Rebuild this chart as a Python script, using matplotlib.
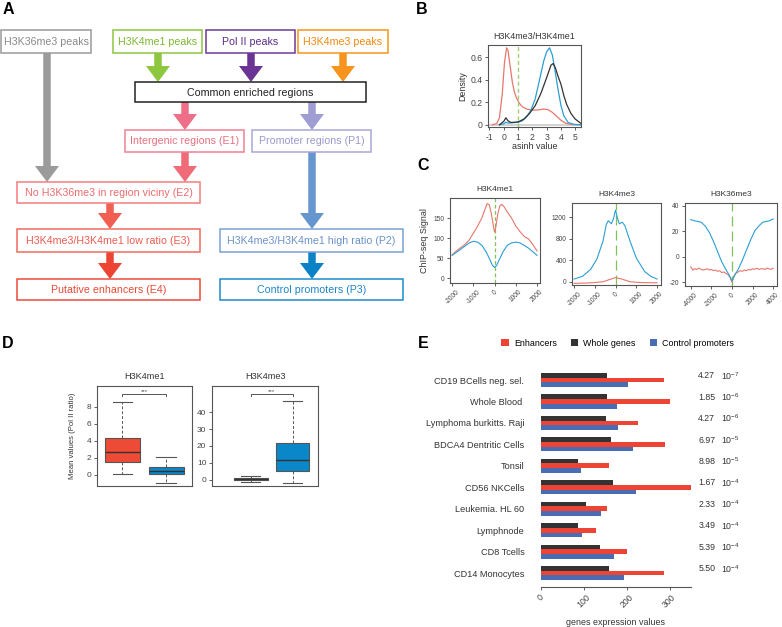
import numpy as np
import matplotlib.pyplot as plt
from matplotlib.patches import FancyArrow, Rectangle, Patch

plt.rcParams['font.family'] = ['Liberation Sans', 'DejaVu Sans']
plt.rcParams['axes.unicode_minus'] = False
plt.rcParams['mathtext.default'] = 'regular'

W, H = 782, 627

# ---- B: density of asinh(H3K4me3/H3K4me1)
e2_x = [-0.8, -0.5, -0.3, -0.1, 0.05, 0.2, 0.3, 0.45, 0.6, 0.75, 0.9, 1.1, 1.3, 1.6,
        2.0, 2.4, 2.8, 3.1, 3.4, 3.7, 4.0, 4.3, 4.7, 5.4]
e2_y = [0.0, 0.01, 0.06, 0.28, 0.55, 0.685, 0.66, 0.52, 0.38, 0.29, 0.235, 0.19, 0.16, 0.14,
        0.13, 0.132, 0.14, 0.135, 0.11, 0.075, 0.04, 0.015, 0.003, 0.0]
p1_x = [-0.3, 0.0, 0.15, 0.3, 0.6, 1.0, 1.3, 1.6, 1.9, 2.2, 2.5, 2.8, 3.0, 3.2, 3.4, 3.6,
        3.8, 4.0, 4.2, 4.5, 4.9, 5.4]
p1_y = [0.0, 0.008, 0.022, 0.015, 0.018, 0.022, 0.035, 0.07, 0.13, 0.23, 0.4, 0.57, 0.65,
        0.685, 0.62, 0.47, 0.31, 0.17, 0.08, 0.02, 0.003, 0.0]
refseq_x = [-0.3, 0.0, 0.15, 0.3, 0.5, 1.0, 1.4, 1.8, 2.2, 2.6, 3.0, 3.3, 3.45, 3.6, 3.8,
            4.0, 4.2, 4.4, 4.7, 5.0, 5.4]
refseq_y = [0.0, 0.03, 0.062, 0.035, 0.02, 0.025, 0.05, 0.1, 0.17, 0.28, 0.42, 0.53, 0.545,
            0.51, 0.43, 0.36, 0.26, 0.18, 0.1, 0.05, 0.012]

# ---- C: ChIP-seq profiles around region centres
k4me1_enh_x = [-2000, -1800, -1600, -1400, -1200, -1000, -800, -600, -450, -350, -250, -150,
               -50, 0, 50, 150, 250, 350, 450, 600, 800, 1000, 1200, 1400, 1600, 1800, 2000]
k4me1_enh = [58, 68, 76, 84, 95, 112, 130, 150, 172, 186, 183, 160, 128, 115, 125, 160, 181,
             184, 178, 165, 150, 130, 116, 104, 98, 84, 68]
k4me1_pro_x = [-2000, -1600, -1200, -1000, -800, -600, -400, -200, -100, 0, 100, 200, 400,
               600, 800, 1000, 1200, 1600, 2000]
k4me1_pro = [57, 72, 88, 92, 90, 82, 66, 44, 32, 27, 32, 44, 66, 82, 88, 90, 88, 75, 57]

k4me3_pro_x = [-2000, -1600, -1200, -900, -600, -450, -350, -200, -100, 0, 100, 180, 320,
               450, 700, 1000, 1400, 1700, 2000]
k4me3_pro = [50, 100, 230, 420, 760, 1060, 1130, 1075, 1170, 1330, 1170, 1075, 1105, 1040,
             750, 440, 190, 100, 50]
k4me3_enh_x = [-2000, -1200, -600, -300, 0, 300, 700, 1200, 2000]
k4me3_enh = [-30, -20, 0, 40, 78, 50, 0, -15, -20]

k36_pro_x = [-4000, -3600, -3000, -2600, -2200, -1800, -1400, -1000, -600, -300, 0, 300, 600,
             1000, 1400, 1800, 2200, 2600, 3000, 3600, 4000]
k36_pro = [29, 28, 27, 24, 19, 12, 4, -4, -10, -14, -19, -14, -10, -3, 5, 13, 20, 24, 27, 28, 29.5]
k36_enh_x = [-4000, -3800, -3600, -3400, -3200, -3000, -2800, -2600, -2400, -2200, -2000, -1800,
             -1600, -1400, -1200, -1000, -800, -600, -400, -200, 0, 200, 400, 600, 800, 1000,
             1200, 1400, 1600, 1800, 2000, 2200, 2400, 2600, 2800, 3000, 3200, 3400, 3600,
             3800, 4000]
k36_enh = [-8, -10.5, -9.5, -10, -9, -10, -10.5, -10, -9.5, -10.5, -10, -11, -10.5, -11.5, -11,
           -12.5, -12, -13, -14, -16, -20, -15, -13, -12, -11, -11.5, -10.5, -11, -10, -10.5,
           -9.5, -10, -9, -10, -9.5, -9.5, -10, -9, -9.5, -10, -9]

# ---- D: box statistics (Pol II ratio)
d_groups = ['Enhancers', 'Promoters']
k4me1_box = dict(q1=[1.48, 0.1], med=[2.65, 0.5], q3=[4.35, 0.93], whislo=[0.1, -0.93], whishi=[8.55, 2.06])
k4me3_box = dict(q1=[-0.2, 5.1], med=[0.4, 11.5], q3=[1.0, 21.6], whislo=[-1.2, -2.0], whishi=[2.4, 46.5])

# ---- E: expression of genes near enhancers
tissues = ['CD19 BCells neg. sel.', 'Whole Blood ', 'Lymphoma burkitts. Raji',
           'BDCA4 Dentritic Cells', 'Tonsil', 'CD56 NKCells', 'Leukemia. HL 60',
           'Lymphnode', 'CD8 Tcells', 'CD14 Monocytes']
whole_genes = [155, 154, 151, 163, 87, 169, 106, 86, 138, 158]
enhancers = [286, 300, 226, 289, 159, 353, 155, 128, 200, 287]
control_prom = [204, 178, 180, 214, 93, 221, 139, 96, 171, 193]
p_mant = ['4.27', '1.85', '4.27', '6.97', '8.98', '1.67', '2.33', '3.49', '5.39', '5.50']
p_exp = [-7, -6, -6, -5, -5, -4, -4, -4, -4, -4]

RED = '#e8766c'
BLUE = '#2b9fd3'
FRAME = '#555555'
TXT = '#444444'

fig = plt.figure(figsize=(7.82, 6.27), dpi=100)

ov = fig.add_axes([0, 0, 1, 1])
ov.set_xlim(0, W)
ov.set_ylim(H, 0)
ov.axis('off')


def rect(x0, y0, x1, y1):
    return [x0 / W, 1 - y1 / H, (x1 - x0) / W, (y1 - y0) / H]


def style(ax, fs=6):
    for s in ax.spines.values():
        s.set_color(FRAME)
        s.set_linewidth(0.8)
    ax.tick_params(labelsize=fs, colors=TXT, length=2.5, width=0.6, pad=1.5)


# ---------------- A: flowchart
boxes = [
    ('H3K36me3 peaks', 1, 30, 91, 53, '#9a9a9a', '#8a8a8a'),
    ('H3K4me1 peaks', 113, 30, 202, 53, '#8dc63f', '#7cb832'),
    ('Pol II peaks', 206, 30, 295, 53, '#6b3a96', '#5c2d8a'),
    ('H3K4me3 peaks', 298, 30, 388, 53, '#f7941d', '#f08a10'),
    ('Common enriched regions', 135, 82, 366, 102, '#222222', '#222222'),
    ('Intergenic regions (E1)', 125, 130, 244, 152, '#ef8193', '#e8707f'),
    ('Promoter regions (P1)', 252, 130, 371, 152, '#aaa7d6', '#9c98cc'),
    ('No H3K36me3 in region viciny (E2)', 17, 182, 200, 203, '#f27d7d', '#ee6b6b'),
    ('H3K4me3/H3K4me1 low ratio (E3)', 17, 229, 200, 252, '#f06b5f', '#ec5c50'),
    ('H3K4me3/H3K4me1 high ratio (P2)', 220, 229, 403, 252, '#7aa0d5', '#6b93cc'),
    ('Putative enhancers (E4)', 17, 279, 200, 300, '#ee4a3a', '#e84a35'),
    ('Control promoters (P3)', 220, 279, 403, 300, '#1a8ccc', '#1f86c6'),
]
for label, x0, y0, x1, y1, ec, tc in boxes:
    ov.add_patch(Rectangle((x0, y0), x1 - x0, y1 - y0, fc='white', ec=ec, lw=1.1, zorder=3))
    ov.text((x0 + x1) / 2, (y0 + y1) / 2 + 0.5, label, color=tc, fontsize=7.7,
            ha='center', va='center', zorder=4)

arrows = [
    (47, 53, 182, '#9b9b9b'),
    (158, 53, 82, '#8dc63f'),
    (251, 53, 82, '#6b3393'),
    (343, 53, 82, '#f7941d'),
    (185, 102, 130, '#ee7088'),
    (312, 102, 130, '#9f9dd2'),
    (185, 152, 182, '#ef6b78'),
    (312, 152, 229, '#6696d0'),
    (110, 203, 229, '#f05f52'),
    (110, 252, 279, '#ee4433'),
    (312, 252, 279, '#0b82c6'),
]
for x, ya, yb, c in arrows:
    ov.add_patch(FancyArrow(x, ya, 0, yb - ya, width=7.5, head_width=24, head_length=16,
                            length_includes_head=True, fc=c, ec='none', zorder=2))

for lab, x, y in [('A', 8, 10), ('B', 422, 9), ('C', 423, 165), ('D', 8, 343), ('E', 423, 343)]:
    ov.text(x, y, lab, fontsize=11.5, fontweight='bold', ha='center', va='center', color='black')

# ---------------- B
axb = fig.add_axes(rect(488, 45, 581, 127))
axb.axhline(0, color='#cccccc', lw=1.2, zorder=1)
lb1, = axb.plot(e2_x, e2_y, color=RED, lw=0.9, label='E2')
lb2, = axb.plot(p1_x, p1_y, color=BLUE, lw=0.9, label='P1')
lb3, = axb.plot(refseq_x, refseq_y, color='#333333', lw=0.9, label='hg19 Refseq\npromoters')
axb.axvline(1, color='#9fcf7a', lw=1.0, ls=(0, (3, 2)))
axb.set_xlim(-1.1, 5.4)
axb.set_ylim(-0.02, 0.71)
axb.set_xticks([-1, 0, 1, 2, 3, 4, 5])
axb.set_yticks([0, 0.2, 0.4, 0.6])
axb.set_yticklabels(['0', '0.2', '0.4', '0.6'])
style(axb, 6.2)
axb.set_title('H3K4me3/H3K4me1', fontsize=6.4, color='#333333', pad=4)
axb.set_xlabel('asinh value', fontsize=6.4, color='#333333', labelpad=0)
axb.set_ylabel('Density', fontsize=6.4, color='#333333', labelpad=2)
ov.legend(handles=[lb1, lb2, lb3], loc='upper left', bbox_to_anchor=(602, 35),
          bbox_transform=ov.transData, frameon=False, fontsize=6.4, handlelength=1.0,
          handletextpad=0.6, labelspacing=0.55, borderpad=0)

# ---------------- C
c_specs = [
    ('H3K4me1', rect(450, 198, 540, 283), k4me1_enh_x, k4me1_enh, k4me1_pro_x, k4me1_pro,
     (-2100, 2140), (-12, 200), [0, 50, 100, 150], [-2000, -1000, 0, 1000, 2000], (0, (3, 2))),
    ('H3K4me3', rect(572, 203, 661, 285), k4me3_enh_x, k4me3_enh, k4me3_pro_x, k4me3_pro,
     (-2100, 2190), (-60, 1460), [0, 400, 800, 1200], [-2000, -1000, 0, 1000, 2000], (0, (8, 4))),
    ('H3K36me3', rect(685, 203, 777, 286), k36_enh_x, k36_enh, k36_pro_x, k36_pro,
     (-4560, 4370), (-23, 42), [-20, 0, 20, 40], [-4000, -2000, 0, 2000, 4000], (0, (8, 4))),
]
c_axes = []
for title, r, ex, ey, px, py, xl, yl, yt, xt, dash in c_specs:
    ax = fig.add_axes(r)
    le, = ax.plot(ex, ey, color=RED, lw=0.8, label='Enhancers')
    lp, = ax.plot(px, py, color=BLUE, lw=0.8, label='Promoters')
    ax.axvline(0, color='#7fc25a', lw=0.9, ls=dash, zorder=0)
    ax.set_xlim(*xl)
    ax.set_ylim(*yl)
    ax.set_yticks(yt)
    ax.set_xticks(xt)
    style(ax, 4.8)
    plt.setp(ax.get_xticklabels(), rotation=45, ha='center', va='top')
    ax.set_title(title, fontsize=6, color='#333333', pad=5)
    c_axes.append(ax)
c_axes[0].set_ylabel('ChIP-seq Signal', fontsize=6.4, color='#333333', labelpad=3)
ov.legend(handles=[le, lp], loc='center left', bbox_to_anchor=(516, 172),
          bbox_transform=ov.transData, frameon=False, fontsize=6.4, handlelength=0.8,
          handletextpad=1.2, labelspacing=0.45, borderpad=0)

# ---------------- D
d_colors = ['#ee4b36', '#0a87c9']
d_specs = [('H3K4me1', rect(97, 386, 192, 486), k4me1_box, (-1.3, 10.4), [0, 2, 4, 6, 8],
            (0.42, 2.59), 9.45),
           ('H3K4me3', rect(212, 386, 318, 486), k4me3_box, (-3.8, 55.6), [0, 10, 20, 30, 40],
            (0.07, 2.61), 50.9)]
for title, r, st, yl, yt, xl, brk in d_specs:
    ax = fig.add_axes(r)
    stats = [dict(label=g, q1=st['q1'][i], med=st['med'][i], q3=st['q3'][i],
                  whislo=st['whislo'][i], whishi=st['whishi'][i], fliers=[])
             for i, g in enumerate(d_groups)]
    bp = ax.bxp(stats, positions=[1, 2], widths=0.8, patch_artist=True, showfliers=False,
                boxprops=dict(ec='#555555', lw=0.8),
                medianprops=dict(color='#333333', lw=1.0),
                whiskerprops=dict(color='#555555', lw=0.7, ls=(0, (3, 2))),
                capprops=dict(color='#555555', lw=0.8), capwidths=0.45)
    for b, c in zip(bp['boxes'], d_colors):
        b.set_facecolor(c)
    ax.plot([1, 1, 2, 2], [brk - yl[1] * 0.025, brk, brk, brk - yl[1] * 0.025],
            color='#555555', lw=0.7)
    ax.text(1.5, brk, '***', fontsize=4.5, ha='center', va='bottom', color='#555555')
    ax.set_xlim(*xl)
    ax.set_ylim(*yl)
    ax.set_yticks(yt)
    ax.set_xticks([])
    style(ax, 6)
    ax.set_title(title, fontsize=6.6, color='#333333', pad=5)
    if title == 'H3K4me1':
        ax.set_ylabel('Mean values (Pol II ratio)', fontsize=5.6, color='#333333', labelpad=8)
ov.legend(handles=[Patch(fc=c, ec='none', label=g) for c, g in zip(d_colors, d_groups)],
          loc='center left', bbox_to_anchor=(94, 508), bbox_transform=ov.transData, ncol=2,
          frameon=False, fontsize=5.8, handlelength=0.9, handleheight=0.9,
          handletextpad=0.7, columnspacing=2.2, borderpad=0)

# ---------------- E
axe = fig.add_axes(rect(541, 368, 691, 587))
yy = np.arange(len(tissues))
bh = 0.22
axe.barh(yy - bh, whole_genes, height=bh, color='#333333', label='Whole genes')
axe.barh(yy, enhancers, height=bh, color='#ee4436', label='Enhancers')
axe.barh(yy + bh, control_prom, height=bh, color='#4a6cb3', label='Control promoters')
axe.set_ylim(9.65, -0.56)
axe.set_xlim(0, 350)
axe.set_yticks(yy)
axe.set_yticklabels(tissues)
axe.set_xticks([0, 100, 200, 300])
for s in ['left', 'top', 'right']:
    axe.spines[s].set_visible(False)
style(axe, 6.3)
axe.tick_params(axis='y', length=0, pad=12, labelsize=6.6, labelcolor='#333333')
plt.setp(axe.get_xticklabels(), rotation=45, ha='center', va='top')
axe.set_xlabel('genes expression values', fontsize=6.4, color='#333333', labelpad=6)
for i in range(len(tissues)):
    axe.text(367, yy[i] - 0.2, p_mant[i], fontsize=6.3, color='#333333', ha='left',
             va='center', clip_on=False)
    axe.text(421, yy[i] - 0.2, '10$^{%d}$' % p_exp[i], fontsize=6.3, color='#333333',
             ha='left', va='center', clip_on=False)
ov.legend(handles=[Patch(fc='#ee4436', label='Enhancers'), Patch(fc='#333333', label='Whole genes'),
                   Patch(fc='#4a6cb3', label='Control promoters')],
          loc='center left', bbox_to_anchor=(497, 343), bbox_transform=ov.transData, ncol=3,
          frameon=False, fontsize=6.4, handlelength=0.8, handleheight=0.8,
          handletextpad=0.6, columnspacing=1.6, borderpad=0)

fig.savefig('out.png', dpi=100)
